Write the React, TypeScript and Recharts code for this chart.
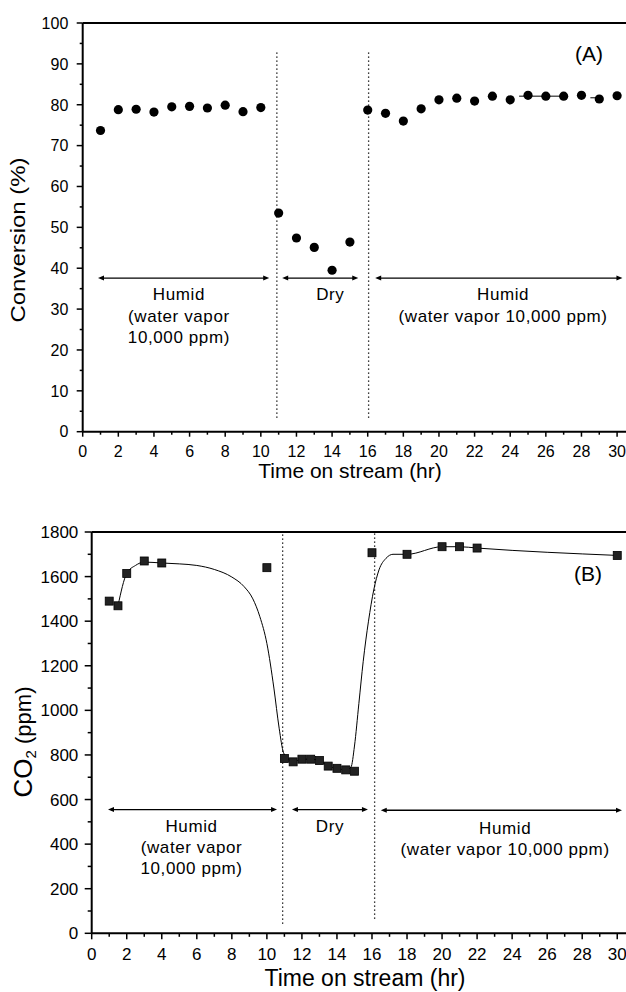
import React from 'react';
import { ComposedChart, Scatter, Line, XAxis, YAxis, ReferenceLine, ReferenceDot } from 'recharts';

const FONT = '"Liberation Sans", Arial, Helvetica, sans-serif';

// ---------- Panel A : conversion ----------
const hoursA = [1, 2, 3, 4, 5, 6, 7, 8, 9, 10, 11, 12, 13, 14, 15, 16, 17, 18, 19, 20, 21, 22, 23, 24, 25, 26, 27, 28, 29, 30];
const conversionA = [73.7, 78.8, 78.9, 78.2, 79.5, 79.6, 79.2, 79.9, 78.3, 79.3, 53.5, 47.4, 45.1, 39.5, 46.4, 78.7, 77.9, 76.0, 79.0, 81.2, 81.6, 80.9, 82.1, 81.2, 82.3, 82.1, 82.1, 82.3, 81.4, 82.2];
const yTicksA = [0, 5, 10, 15, 20, 25, 30, 35, 40, 45, 50, 55, 60, 65, 70, 75, 80, 85, 90, 95, 100];

// ---------- Panel B : CO2 ----------
const hoursB = [1, 1.5, 2, 3, 4, 10, 11, 11.5, 12, 12.5, 13, 13.5, 14, 14.5, 15, 16, 18, 20, 21, 22, 30];
const co2B = [1490, 1469, 1614, 1670, 1661, 1640, 784, 769, 781, 781, 775, 750, 740, 733, 727, 1707, 1700, 1734, 1734, 1728, 1695];
const fitHoursB = [1.5, 2, 2.5, 3, 4, 5, 6, 7, 8, 8.7, 9.2, 9.6, 10, 10.4, 10.7, 10.95, 11.2, 11.5, 12, 12.5, 13, 13.5, 14, 14.5, 14.8, 15, 15.25, 15.5, 15.8, 16.1, 16.4, 16.8, 17.2, 18, 20, 21, 22, 30];
const fitCo2B = [1469, 1614, 1650, 1665, 1661, 1657, 1650, 1632, 1598, 1555, 1500, 1420, 1300, 1100, 920, 810, 784, 769, 781, 781, 775, 750, 740, 733, 745, 840, 1030, 1220, 1400, 1540, 1630, 1682, 1700, 1700, 1734, 1734, 1728, 1695];
const yTicksB = [0, 100, 200, 300, 400, 500, 600, 700, 800, 900, 1000, 1100, 1200, 1300, 1400, 1500, 1600, 1700, 1800];

// shared x ticks (every hour; labels every 2 h)
const xTicks = [0, 1, 2, 3, 4, 5, 6, 7, 8, 9, 10, 11, 12, 13, 14, 15, 16, 17, 18, 19, 20, 21, 22, 23, 24, 25, 26, 27, 28, 29, 30];

// annotation texts
const humidLeftLines = ['Humid', '(water vapor', '10,000 ppm)'];
const dryLines = ['Dry'];
const humidRightLines = ['Humid', '(water vapor 10,000 ppm)'];
const xTitle = 'Time on stream (hr)';
const yTitleA = 'Conversion (%)';

const dataA = hoursA.map((x, i) => ({ x, y: conversionA[i] }));
const dataB = hoursB.map((x, i) => ({ x, y: co2B[i] }));
const fitB = fitHoursB.map((x, i) => ({ x, y: fitCo2B[i] }));

const makeXTick = (major: number, minor: number, dy: number, size: number) => (props: any) => {
  const { x, y, payload } = props;
  const v = payload.value;
  const isMajor = v % 2 === 0;
  return (
    <g>
      <line x1={x} x2={x} y1={y} y2={y + (isMajor ? major : minor)} stroke="#000" strokeWidth={1.5} />
      {isMajor && (
        <text x={x} y={y + dy} textAnchor="middle" fontSize={size} fontFamily={FONT} fill="#000">
          {v}
        </text>
      )}
    </g>
  );
};

const makeYTick = (step: number, major: number, minor: number, dx: number, size: number) => (props: any) => {
  const { x, y, payload } = props;
  const v = payload.value;
  const isMajor = v % step === 0;
  return (
    <g>
      <line x1={x - (isMajor ? major : minor)} x2={x} y1={y} y2={y} stroke="#000" strokeWidth={1.5} />
      {isMajor && (
        <text x={x + dx} y={y + size * 0.36} textAnchor="end" fontSize={size} fontFamily={FONT} fill="#000">
          {v}
        </text>
      )}
    </g>
  );
};

const arrowShape = (props: any) => {
  const { x1, y1, x2, y2 } = props;
  const h = 6;
  const w = 2.5;
  return (
    <g>
      <line x1={x1 + 3} y1={y1} x2={x2 - 3} y2={y2} stroke="#000" strokeWidth={1.3} />
      <polygon points={`${x1},${y1} ${x1 + h},${y1 - w} ${x1 + h},${y1 + w}`} fill="#000" />
      <polygon points={`${x2},${y2} ${x2 - h},${y2 - w} ${x2 - h},${y2 + w}`} fill="#000" />
    </g>
  );
};

const segShape = (props: any) => {
  const { x1, y1, x2, y2 } = props;
  return <line x1={x1} y1={y1} x2={x2} y2={y2} stroke="#000" strokeWidth={1} />;
};

const textBlock = (lines: string[], size: number, lh: number) => (props: any) => {
  const { cx, cy } = props;
  return (
    <text x={cx} y={cy} textAnchor="middle" fontSize={size} fontFamily={FONT} fill="#000" letterSpacing={0.6}>
      {lines.map((l, i) => (
        <tspan key={i} x={cx} dy={i === 0 ? size * 0.36 : lh}>
          {l}
        </tspan>
      ))}
    </text>
  );
};

const circleShape = (props: any) => <circle cx={props.cx} cy={props.cy} r={4.6} fill="#000" />;
const squareShape = (props: any) => (
  <rect x={props.cx - 4} y={props.cy - 4} width={8} height={8} fill="#222" stroke="#000" strokeWidth={0.8} />
);

const dotted = { stroke: '#000', strokeWidth: 1.3, strokeDasharray: '1.3 2.7' };

export default function App() {
  return (
    <div style={{ position: 'absolute', left: 0, top: 0, width: 626, height: 992, background: '#fff' }}>
      <div style={{ position: 'absolute', left: 0, top: 0 }}>
        <ComposedChart width={626} height={490} margin={{ top: 23, right: 0, bottom: 0, left: 0 }}>
          <XAxis
            dataKey="x"
            type="number"
            domain={[0, 30.5]}
            ticks={xTicks}
            interval={0}
            height={58.3}
            tickSize={0}
            tickMargin={0}
            tickLine={false}
            axisLine={{ stroke: '#000', strokeWidth: 2 }}
            tick={makeXTick(5, 3, 25.6, 16)}
            allowDataOverflow
          />
          <YAxis
            type="number"
            domain={[0, 100]}
            ticks={yTicksA}
            interval={0}
            width={82.7}
            tickSize={0}
            tickMargin={0}
            tickLine={false}
            axisLine={{ stroke: '#000', strokeWidth: 2 }}
            tick={makeYTick(10, 6, 3, -14.4, 16)}
            allowDataOverflow
          />
          <ReferenceLine y={100} stroke="#000" strokeWidth={2} />
          <ReferenceLine segment={[{ x: 10.9, y: 3.4 }, { x: 10.9, y: 93 }]} {...dotted} />
          <ReferenceLine segment={[{ x: 16.05, y: 3.4 }, { x: 16.05, y: 93 }]} {...dotted} />
          <ReferenceLine segment={[{ x: 0.86, y: 37.6 }, { x: 10.47, y: 37.6 }]} shape={arrowShape} />
          <ReferenceLine segment={[{ x: 11.2, y: 37.6 }, { x: 15.47, y: 37.6 }]} shape={arrowShape} />
          <ReferenceLine segment={[{ x: 16.42, y: 37.6 }, { x: 30.3, y: 37.6 }]} shape={arrowShape} />
          <ReferenceLine segment={[{ x: 24.5, y: 82.1 }, { x: 27.2, y: 82.1 }]} shape={segShape} />
          <ReferenceLine segment={[{ x: 28.5, y: 81.7 }, { x: 29.2, y: 81.7 }]} shape={segShape} />
          <ReferenceDot x={5.4} y={33.7} r={0} shape={textBlock(humidLeftLines, 17, 21.5)} />
          <ReferenceDot x={13.9} y={33.7} r={0} shape={textBlock(dryLines, 17, 21.5)} />
          <ReferenceDot x={23.6} y={33.7} r={0} shape={textBlock(humidRightLines, 17, 21.5)} />
          <Scatter data={dataA} dataKey="y" shape={circleShape} isAnimationActive={false} />
          <text x={589} y={61} textAnchor="middle" fontSize={21} fontFamily={FONT} fill="#000">(A)</text>
          <text x={350} y={478} textAnchor="middle" fontSize={21} fontFamily={FONT} fill="#000">{xTitle}</text>
          <text
            x={18}
            y={240}
            transform="rotate(-90, 18, 240)"
            textAnchor="middle"
            dominantBaseline="central"
            fontSize={20}
            fontFamily={FONT}
            fill="#000"
            textLength={165}
            lengthAdjust="spacingAndGlyphs"
          >
            {yTitleA}
          </text>
        </ComposedChart>
      </div>
      <div style={{ position: 'absolute', left: 0, top: 490 }}>
        <ComposedChart width={626} height={502} margin={{ top: 42, right: 0, bottom: 0, left: 0 }}>
          <XAxis
            dataKey="x"
            type="number"
            domain={[0, 30.5]}
            ticks={xTicks}
            interval={0}
            height={58.7}
            tickSize={0}
            tickMargin={0}
            tickLine={false}
            axisLine={{ stroke: '#000', strokeWidth: 2 }}
            tick={makeXTick(6, 3.5, 26.8, 17)}
            allowDataOverflow
          />
          <YAxis
            type="number"
            domain={[0, 1800]}
            ticks={yTicksB}
            interval={0}
            width={91.7}
            tickSize={0}
            tickMargin={0}
            tickLine={false}
            axisLine={{ stroke: '#000', strokeWidth: 2 }}
            tick={makeYTick(200, 7, 4, -13.4, 17)}
            allowDataOverflow
          />
          <ReferenceLine y={1800} stroke="#000" strokeWidth={2} />
          <ReferenceLine segment={[{ x: 10.9, y: 43 }, { x: 10.9, y: 1800 }]} {...dotted} />
          <ReferenceLine segment={[{ x: 16.15, y: 65 }, { x: 16.15, y: 1800 }]} {...dotted} />
          <ReferenceLine segment={[{ x: 0.93, y: 555 }, { x: 10.58, y: 555 }]} shape={arrowShape} />
          <ReferenceLine segment={[{ x: 11.43, y: 555 }, { x: 15.77, y: 555 }]} shape={arrowShape} />
          <ReferenceLine segment={[{ x: 16.5, y: 552 }, { x: 30.27, y: 552 }]} shape={arrowShape} />
          <ReferenceDot x={5.7} y={482} r={0} shape={textBlock(humidLeftLines, 17, 21)} />
          <ReferenceDot x={13.6} y={482} r={0} shape={textBlock(dryLines, 17, 21)} />
          <ReferenceDot x={23.6} y={473} r={0} shape={textBlock(humidRightLines, 17, 21)} />
          <Line data={fitB} dataKey="y" type="monotone" stroke="#000" strokeWidth={1} dot={false} isAnimationActive={false} />
          <Scatter data={dataB} dataKey="y" shape={squareShape} isAnimationActive={false} />
          <text x={588} y={91} textAnchor="middle" fontSize={21} fontFamily={FONT} fill="#000">(B)</text>
          <text x={365} y={496} textAnchor="middle" fontSize={23} fontFamily={FONT} fill="#000">{xTitle}</text>
          <text
            x={23}
            y={252}
            transform="rotate(-90, 23, 252)"
            textAnchor="middle"
            dominantBaseline="central"
            fontFamily={FONT}
            fill="#000"
          >
            <tspan fontSize={26}>CO</tspan>
            <tspan fontSize={15} dy={7}>2</tspan>
            <tspan fontSize={22} dy={-7}> (ppm)</tspan>
          </text>
        </ComposedChart>
      </div>
    </div>
  );
}
